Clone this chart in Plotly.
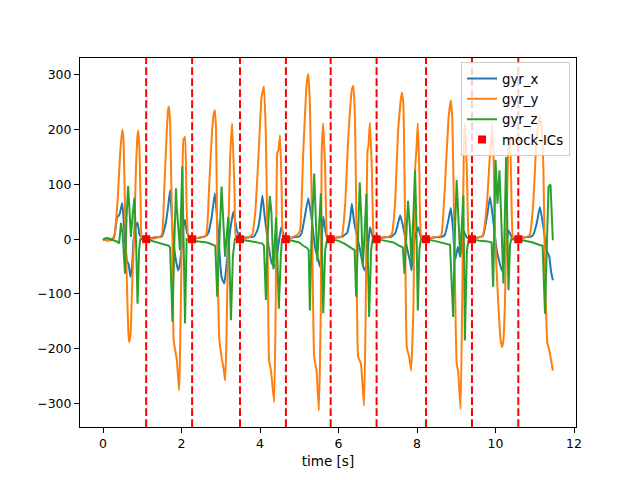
import plotly.graph_objects as go

# ---- data ----
gyr_y_t = [0.00, 0.13, 0.25, 0.30, 0.38, 0.44, 0.49, 0.52, 0.56, 0.58, 0.62, 0.65, 0.67, 0.70, 0.74, 0.79, 0.84, 0.88, 0.90, 0.93, 0.96, 0.99, 1.10,
           1.40, 1.50, 1.56, 1.62, 1.66, 1.68, 1.71, 1.74, 1.77, 1.80, 1.88, 1.94, 1.96, 2.00, 2.05, 2.09, 2.13, 2.18, 2.27,
           2.40, 2.62, 2.70, 2.78, 2.83, 2.85, 2.88, 2.91, 2.96, 3.02, 3.08, 3.11, 3.14, 3.18, 3.24, 3.29, 3.35, 3.39, 3.49,
           3.70, 3.80, 3.88, 3.96, 4.04, 4.10, 4.15, 4.20, 4.23, 4.28, 4.36, 4.40, 4.44, 4.47, 4.51, 4.55, 4.59, 4.66,
           4.80, 4.95, 5.02, 5.10, 5.19, 5.23, 5.27, 5.33, 5.38, 5.44, 5.50, 5.55, 5.57, 5.61, 5.66, 5.70, 5.74, 5.81,
           5.95, 6.08, 6.17, 6.25, 6.34, 6.38, 6.42, 6.46, 6.50, 6.57, 6.65, 6.69, 6.74, 6.76, 6.80, 6.85, 6.89, 6.93, 6.98,
           7.10, 7.30, 7.36, 7.44, 7.52, 7.61, 7.65, 7.69, 7.74, 7.80, 7.85, 7.91, 7.95, 7.99, 8.02, 8.06, 8.11, 8.23,
           8.40, 8.60, 8.63, 8.71, 8.80, 8.86, 8.90, 8.95, 9.01, 9.05, 9.11, 9.15, 9.19, 9.22, 9.27, 9.31, 9.35, 9.40,
           9.55, 9.66, 9.69, 9.78, 9.86, 9.92, 9.96, 9.99, 10.07, 10.13, 10.17, 10.20, 10.24, 10.32, 10.37, 10.41, 10.45, 10.57,
           10.70, 10.85, 10.88, 10.96, 11.05, 11.13, 11.18, 11.22, 11.26, 11.32, 11.37, 11.43, 11.46]
gyr_y = [0, -3, 2, 10, 80, 160, 200, 185, 60, 0, -110, -175, -188, -175, -90, 0, 130, 190, 198, 160, 60, 0, 0,
         3, 8, 90, 190, 238, 242, 215, 100, 0, -185, -220, -276, -220, -31, 182, 187, 60, 0, 0,
         2, 6, 90, 200, 232, 235, 200, 0, -180, -215, -240, -258, -200, -31, 151, 212, 90, 0, 0,
         3, 8, 50, 150, 260, 279, 187, -56, -221, -240, -298, -117, 157, 163, 190, 96, 0, 0,
         3, 8, 16, 157, 285, 302, 249, 5, -215, -240, -313, -117, 157, 212, 126, 10, 0, 0,
         3, 4, 65, 187, 273, 280, 218, 4, -215, -227, -304, -148, 164, 169, 213, 126, 10, 0, 0,
         2, 5, 10, 65, 200, 268, 249, 65, -197, -215, -240, -117, 126, 170, 212, 120, 5, 0,
         3, 6, 10, 96, 218, 254, 218, 4, -227, -243, -310, -117, 157, 212, 126, 10, 0, 0,
         3, 6, 10, 65, 157, 212, 120, 0, -117, -185, -197, -185, -117, 157, 190, 60, 0, 0,
         3, 6, 10, 65, 187, 225, 200, 126, -56, -190, -203, -227, -240]

gyr_x_t = [0.00, 0.10, 0.20, 0.28, 0.33, 0.36, 0.42, 0.49, 0.53, 0.57, 0.61, 0.65, 0.70, 0.74, 0.78, 0.84, 0.88, 0.93, 1.00, 1.10,
           1.30, 1.50, 1.55, 1.60, 1.66, 1.71, 1.75, 1.80, 1.85, 1.91, 1.96, 2.01, 2.06, 2.09, 2.14, 2.22, 2.27,
           2.40, 2.60, 2.68, 2.77, 2.85, 2.94, 3.02, 3.09, 3.15, 3.24, 3.32, 3.41, 3.49,
           3.60, 3.85, 3.95, 4.00, 4.06, 4.13, 4.21, 4.30, 4.38, 4.47, 4.54, 4.61, 4.66,
           4.80, 5.00, 5.06, 5.15, 5.23, 5.32, 5.40, 5.48, 5.53, 5.61, 5.70, 5.81,
           5.95, 6.10, 6.22, 6.30, 6.34, 6.40, 6.46, 6.55, 6.63, 6.68, 6.72, 6.80, 6.88, 6.98,
           7.10, 7.35, 7.45, 7.52, 7.57, 7.65, 7.74, 7.82, 7.86, 7.91, 7.97, 8.03, 8.10, 8.23,
           8.40, 8.65, 8.71, 8.80, 8.86, 8.92, 8.97, 9.04, 9.10, 9.18, 9.27, 9.40,
           9.55, 9.68, 9.78, 9.86, 9.94, 10.03, 10.16, 10.24, 10.33, 10.42, 10.57,
           10.70, 10.90, 10.96, 11.05, 11.13, 11.22, 11.30, 11.37, 11.41, 11.46]
gyr_x = [-2, 2, -2, 3, 25, 40, 45, 66, 30, -10, -40, -45, -69, -50, 0, 25, 30, 8, 3, 0,
         3, 5, 15, 30, 60, 90, 45, -10, -35, -57, -45, -10, 30, 35, 12, 3, 0,
         2, 5, 11, 41, 84, 4, -69, -81, -44, 16, 50, 16, 4,
         3, 5, 20, 41, 80, 35, -8, -44, -50, -10, 22, 5, 0,
         3, 5, 11, 45, 75, 35, -14, -38, -51, 41, 4, 0,
         3, 5, 12, 40, 65, 30, 10, -20, -50, -57, -45, 22, 3, 0,
         3, 5, 12, 30, 44, 22, -14, -40, -57, -14, 10, 22, 3, 0,
         3, 5, 8, 35, 57, 16, -38, -14, -32, 16, 3, 0,
         3, 6, 41, 77, 35, -20, -57, -32, 16, 3, 0,
         3, 5, 8, 29, 59, 22, -20, -32, -57, -75]

gyr_z_t = [0.00, 0.10, 0.20, 0.30, 0.38, 0.41, 0.46, 0.50, 0.56, 0.60, 0.64, 0.67, 0.71, 0.75, 0.80, 0.84, 0.88, 0.92, 0.95, 1.10,
           1.30, 1.45, 1.60, 1.68, 1.71, 1.77, 1.82, 1.86, 1.88, 1.94, 1.96, 2.02, 2.06, 2.09, 2.13, 2.20, 2.27,
           2.45, 2.65, 2.80, 2.86, 2.91, 2.96, 3.02, 3.06, 3.11, 3.19, 3.26, 3.31, 3.36, 3.49,
           3.60, 3.80, 3.95, 4.06, 4.10, 4.15, 4.19, 4.25, 4.29, 4.34, 4.41, 4.48, 4.53, 4.56, 4.66,
           4.85, 5.00, 5.10, 5.20, 5.24, 5.27, 5.31, 5.38, 5.41, 5.46, 5.55, 5.61, 5.66, 5.71, 5.81,
           6.00, 6.15, 6.30, 6.41, 6.45, 6.49, 6.54, 6.58, 6.62, 6.67, 6.71, 6.78, 6.83, 6.87, 6.98,
           7.20, 7.40, 7.55, 7.64, 7.68, 7.72, 7.77, 7.82, 7.86, 7.95, 7.98, 8.02, 8.06, 8.10, 8.23,
           8.45, 8.65, 8.84, 8.92, 8.96, 9.01, 9.05, 9.10, 9.18, 9.22, 9.27, 9.32, 9.40,
           9.60, 9.80, 9.90, 9.94, 10.00, 10.05, 10.10, 10.15, 10.20, 10.27, 10.33, 10.37, 10.40, 10.57,
           10.75, 10.95, 11.10, 11.20, 11.26, 11.31, 11.35, 11.40, 11.43, 11.46]
gyr_z = [0, 2, 0, -3, -5, -8, 30, 10, -63, 40, 97, 60, 4, 40, 76, 0, -118, -20, 0, 0,
         -4, -8, -10, -12, -16, -151, 0, 93, 57, -2, -20, 133, 0, -154, 0, -3, -3,
         -4, -6, -10, -12, -105, 0, 96, 40, -32, 41, -148, -30, 0, 0,
         -2, -4, -6, -8, -12, -111, 0, 79, 50, -55, 40, -127, -30, 0, 0,
         -3, -6, -12, -16, -20, -130, 0, 120, 60, -40, 84, -135, -20, 0, 0,
         -3, -8, -15, -20, -105, 0, 104, 40, -50, 20, 83, -142, -20, 0, 0,
         -3, -6, -12, -15, -63, 0, 70, 20, -45, 126, 40, -130, -20, 0, 0,
         -3, -6, -10, -142, 0, 108, 40, -32, 80, -185, -20, 0, 0,
         -3, -4, -6, -87, 145, 65, 126, 30, -81, 150, -93, -10, 0, 0,
         -3, -6, -10, -12, -136, 0, 96, 100, 60, -2]

ic_times = [1.10, 2.27, 3.49, 4.66, 5.80, 6.97, 8.23, 9.40, 10.58]
ic_values = [0, 0, 0, 0, 0, 0, 0, 0, 0]

x_ticks = [0, 2, 4, 6, 8, 10, 12]
y_ticks = [-300, -200, -100, 0, 100, 200, 300]

# ---- figure ----
fig = go.Figure()
fig.add_trace(go.Scatter(x=gyr_x_t, y=gyr_x, mode="lines", name="gyr_x",
                         line=dict(color="#1f77b4", width=2, shape="spline", smoothing=0.4)))
fig.add_trace(go.Scatter(x=gyr_y_t, y=gyr_y, mode="lines", name="gyr_y",
                         line=dict(color="#ff7f0e", width=2, shape="spline", smoothing=0.4)))
fig.add_trace(go.Scatter(x=gyr_z_t, y=gyr_z, mode="lines", name="gyr_z",
                         line=dict(color="#2ca02c", width=2)))
fig.add_trace(go.Scatter(x=ic_times, y=ic_values, mode="markers", name="mock-ICs",
                         marker=dict(color="red", symbol="square", size=8)))

for t in ic_times:
    fig.add_shape(type="line", xref="x", yref="paper", x0=t, x1=t, y0=0, y1=1,
                  line=dict(color="red", width=2, dash="7.7px,3.3px"), layer="above")

axis_common = dict(showline=True, linecolor="black", linewidth=1, mirror=True,
                   ticks="outside", ticklen=5, tickwidth=1, tickcolor="black",
                   showgrid=False, zeroline=False, automargin=False,
                   tickfont=dict(family="DejaVu Sans", size=12.5, color="black"))

# the page body has an 8 px margin, so the margins are reduced by 8 px on the left/top
fig.update_layout(
    width=640, height=480,
    margin=dict(l=72, r=72, t=50, b=61),
    paper_bgcolor="white", plot_bgcolor="white",
    font=dict(family="DejaVu Sans", size=13, color="black"),
    xaxis=dict(range=[-0.586, 12.05], tickvals=x_ticks,
               title=dict(text="time [s]", font=dict(size=13.5), standoff=6),
               **axis_common),
    yaxis=dict(range=[-343, 331], tickvals=y_ticks, **axis_common),
    legend=dict(x=0.988, y=0.988, xanchor="right", yanchor="top",
                bgcolor="rgba(255,255,255,0.8)", bordercolor="#cccccc", borderwidth=1,
                font=dict(size=13.3), itemwidth=30, tracegroupgap=0),
    showlegend=True,
)

fig.write_html("out.html")
